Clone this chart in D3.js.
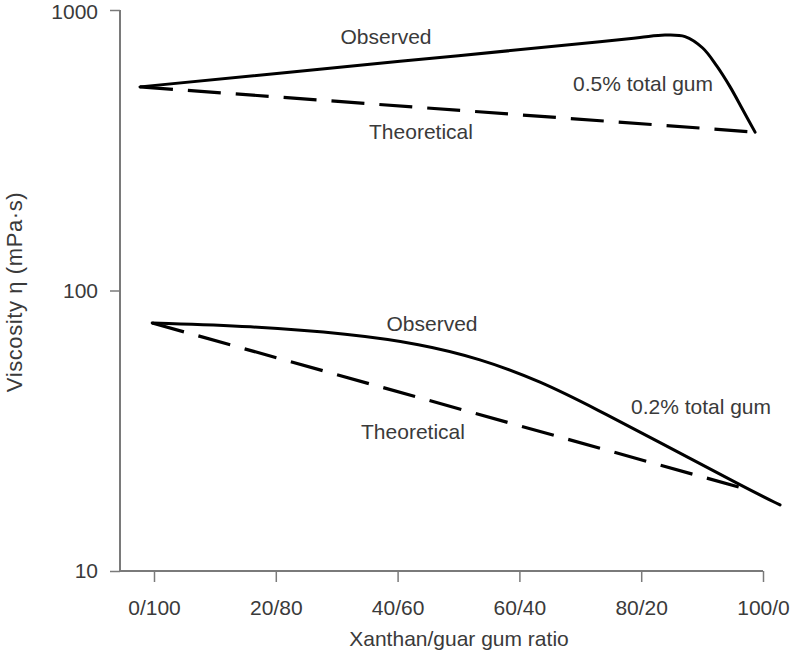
<!DOCTYPE html>
<html>
<head>
<meta charset="utf-8">
<script src="https://cdn.jsdelivr.net/npm/d3@7"></script>
<style>
  html, body { margin: 0; padding: 0; background: #fff; }
  svg { display: block; }
  text { font-family: "Liberation Sans", Arial, Helvetica, sans-serif; fill: #3a3a3a; }
</style>
</head>
<body>
<svg id="chart" width="791" height="657"></svg>
<script>
// ---- Data ----
const tickRatios = [0, 20, 40, 60, 80, 100];
const tickLabels = ["0/100", "20/80", "40/60", "60/40", "80/20", "100/0"];
const yTicks = [10, 100, 1000];

// 0.5% total gum
const obs05Ratio = [-2.3, 40.4, 73.2, 79.8, 83.9, 87.2, 90.1, 92.4, 94.6, 96.7, 98.7];
const obs05Visc  = [532, 656, 770, 798, 814, 804, 732, 632, 532, 440, 367];
const theo05Ratio = [-2.3, 98.7];
const theo05Visc  = [532, 367];

// 0.2% total gum
const obs02Ratio = [-0.3, 15.8, 32.2, 43.7, 53.5, 63.4, 73.2, 81.4, 97.9, 102.8];
const obs02Visc  = [76.6, 74.7, 70.0, 64.5, 57.2, 47.6, 37.2, 30.0, 19.4, 17.2];
const theo02Ratio = [-0.3, 97.9];
const theo02Visc  = [76.6, 19.4];

// ---- Chart ----
const svg = d3.select("#chart");
const x = d3.scaleLinear().domain([0, 100]).range([154, 763]);
const y = d3.scaleLog().domain([10, 1000]).range([571, 10]);
const axisColor = "#7a7a7a";
const fs = "21px";

// Y axis
const yAxis = svg.append("g").attr("transform", "translate(120,0)")
  .call(d3.axisLeft(y).tickValues(yTicks).tickFormat(d3.format("d")).tickSize(10).tickPadding(12));
yAxis.select(".domain").attr("stroke", axisColor).attr("stroke-width", 2).attr("d", `M0,${y(1000)}V${y(10)}`);
yAxis.selectAll(".tick line").attr("stroke", axisColor).attr("stroke-width", 1.5);
yAxis.selectAll(".tick text").style("font-size", fs).attr("fill", "#3a3a3a")
  .attr("y", d => d === 1000 ? 2 : 0);

// X axis
const xAxis = svg.append("g").attr("transform", `translate(0,${y(10)})`)
  .call(d3.axisBottom(x).tickValues(tickRatios).tickFormat((d, i) => tickLabels[i]).tickSize(11).tickPadding(18));
xAxis.select(".domain").attr("stroke", axisColor).attr("stroke-width", 2).attr("d", `M120,0H${x(100)}`);
xAxis.selectAll(".tick line").attr("stroke", axisColor).attr("stroke-width", 1.5);
xAxis.selectAll(".tick text").style("font-size", fs).attr("fill", "#3a3a3a");

// Axis titles
svg.append("text").attr("x", 459).attr("y", 640).attr("text-anchor", "middle")
  .attr("dominant-baseline", "middle").style("font-size", fs).text("Xanthan/guar gum ratio");
svg.append("text").attr("transform", "translate(16,292) rotate(-90)").attr("text-anchor", "middle")
  .attr("dominant-baseline", "middle").style("font-size", "22px").style("letter-spacing", "0.6px")
  .text("Viscosity η (mPa·s)");

// Lines
const zip = (rs, vs) => rs.map((r, i) => [r, vs[i]]);
const lineSmooth = d3.line().x(d => x(d[0])).y(d => y(d[1])).curve(d3.curveCatmullRom.alpha(0.5));
const lineBasis = d3.line().x(d => x(d[0])).y(d => y(d[1])).curve(d3.curveBasis);
const lineStraight = d3.line().x(d => x(d[0])).y(d => y(d[1]));

svg.append("path").datum(zip(obs05Ratio, obs05Visc)).attr("d", lineSmooth)
  .attr("fill", "none").attr("stroke", "#000").attr("stroke-width", 3).attr("stroke-linejoin", "round").attr("stroke-linecap", "round");
svg.append("path").datum(zip(theo05Ratio, theo05Visc)).attr("d", lineStraight)
  .attr("fill", "none").attr("stroke", "#000").attr("stroke-width", 3.2).attr("stroke-dasharray", "33,15");
svg.append("path").datum(zip(obs02Ratio, obs02Visc)).attr("d", lineBasis)
  .attr("fill", "none").attr("stroke", "#000").attr("stroke-width", 3).attr("stroke-linejoin", "round").attr("stroke-linecap", "round");
svg.append("path").datum(zip(theo02Ratio, theo02Visc)).attr("d", lineStraight)
  .attr("fill", "none").attr("stroke", "#000").attr("stroke-width", 3.2).attr("stroke-dasharray", "33,15");

// Annotations
const notes = [
  { t: "Observed", x: 386, y: 38 },
  { t: "Theoretical", x: 421, y: 133 },
  { t: "0.5% total gum", x: 643, y: 85 },
  { t: "Observed", x: 432, y: 325 },
  { t: "Theoretical", x: 413, y: 433 },
  { t: "0.2% total gum", x: 701, y: 408 }
];
svg.selectAll("text.note").data(notes).enter().append("text").attr("class", "note")
  .attr("x", d => d.x).attr("y", d => d.y).attr("text-anchor", "middle")
  .attr("dominant-baseline", "middle").style("font-size", fs).text(d => d.t);
</script>
</body>
</html>
